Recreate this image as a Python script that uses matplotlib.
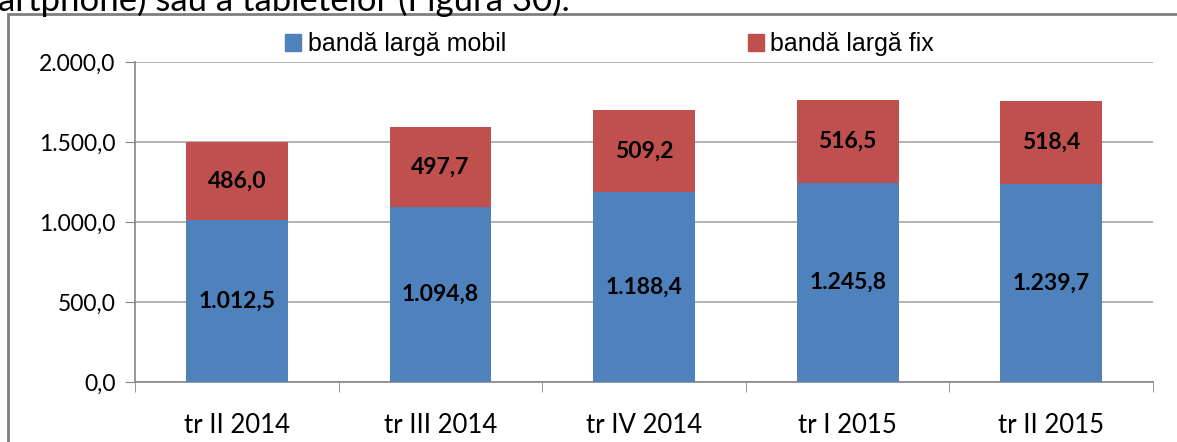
import matplotlib
matplotlib.use('Agg')
import matplotlib.pyplot as plt
from matplotlib.patches import Rectangle, Patch

# data
categories = ['tr II 2014', 'tr III 2014', 'tr IV 2014', 'tr I 2015', 'tr II 2015']
mobil = [1012.5, 1094.8, 1188.4, 1245.8, 1239.7]
fix = [486.0, 497.7, 509.2, 516.5, 518.4]
mobil_labels = ['1.012,5', '1.094,8', '1.188,4', '1.245,8', '1.239,7']
fix_labels = ['486,0', '497,7', '509,2', '516,5', '518,4']
yticks = [0, 500, 1000, 1500, 2000]
ytick_labels = ['0,0', '500,0', '1.000,0', '1.500,0', '2.000,0']

plt.rcParams['font.family'] = ['Lato', 'DejaVu Sans']

fig = plt.figure(figsize=(11.77, 4.42), dpi=100)
W, H = 1177, 442
ax = fig.add_axes([135 / W, 1 - 382 / H, (1153 - 135) / W, (382 - 62) / H])

x = range(len(categories))
blue = '#4F81BD'
red = '#C0504D'
ax.bar(x, mobil, width=0.5, color=blue, zorder=3)
ax.bar(x, fix, width=0.5, bottom=mobil, color=red, zorder=3)

for i in x:
    ax.text(i, mobil[i] / 2, mobil_labels[i], ha='center', va='center',
            fontsize=16.5, fontweight='bold', zorder=4)
    ax.text(i, mobil[i] + fix[i] / 2, fix_labels[i], ha='center', va='center',
            fontsize=16.5, fontweight='bold', zorder=4)

ax.set_xlim(-0.5, 4.5)
ax.set_ylim(0, 2000)
ax.set_yticks(yticks)
ax.set_yticklabels(ytick_labels, fontsize=16.5)
ax.set_xticks(list(x))
ax.set_xticklabels(categories, fontsize=18.5)
ax.set_xticks([i - 0.5 for i in range(len(categories) + 1)], minor=True)
ax.tick_params(axis='x', which='major', length=0, pad=22)
ax.tick_params(axis='x', which='minor', length=7, color='#868686', direction='out')
ax.tick_params(axis='y', length=7, color='#868686', pad=7)
ax.grid(axis='y', color='#a6a6a6', lw=1.2, zorder=0)
for s in ['top', 'right']:
    ax.spines[s].set_visible(False)
for s in ['left', 'bottom']:
    ax.spines[s].set_color('#868686')
    ax.spines[s].set_linewidth(1.2)

# legend
leg_kw = dict(loc='center left', frameon=False, handlelength=0.65, handleheight=0.65,
              handletextpad=0.25, borderpad=0, borderaxespad=0,
              prop={'family': 'Liberation Sans', 'size': 18})
fig.legend(handles=[Patch(color=blue, label='bandă largă mobil')],
           bbox_to_anchor=(285 / W, 1 - 44 / H), **leg_kw)
fig.legend(handles=[Patch(color=red, label='bandă largă fix')],
           bbox_to_anchor=(748 / W, 1 - 44 / H), **leg_kw)

# outer frame (clipped at right/bottom)
fig.patches.append(Rectangle((8 / W, -0.2), 1.2, 1.2 - 14 / H, transform=fig.transFigure,
                             fill=False, edgecolor='#7f7f7f', lw=2))

# text from the page above the chart
fig.text(-2 / W, 1 - 11 / H, 'artphone) sau a tabletelor (Figura 30).', fontsize=25,
         ha='left', va='baseline')

fig.savefig('out.png', dpi=100)
